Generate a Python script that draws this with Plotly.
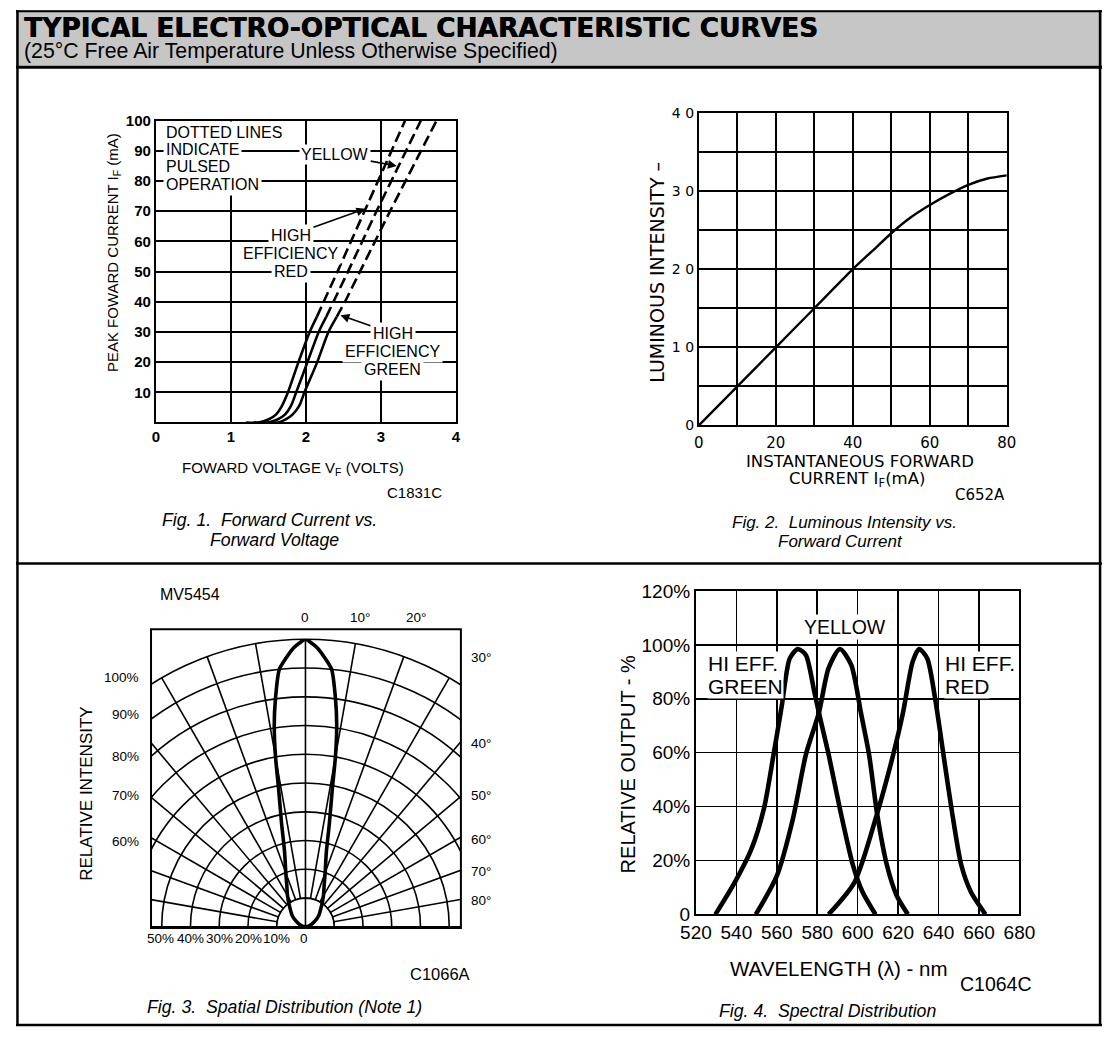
import plotly.graph_objects as go

W, H = 1118, 1040


def fx(p):
    return p / W


def fy(p):
    return 1 - p / H


ARIAL = "Liberation Sans, Arial, Helvetica, sans-serif"
DEJAVU = "DejaVu Sans, Verdana, sans-serif"

# ---------------- Fig. 1 data : forward current vs forward voltage ----------------
volt_ticks = [0, 1, 2, 3, 4]
current_ticks = [10, 20, 30, 40, 50, 60, 70, 80, 90, 100]
dc_current = [0, 0, 1, 2.6, 5.5, 10, 20, 30, 35]
pulse_current = [35, 40, 50, 70, 100]
her_dc_volt = [1.20, 1.37, 1.50, 1.60, 1.68, 1.76, 1.90, 2.05, 2.145]
her_pulse_volt = [2.145, 2.24, 2.42, 2.78, 3.32]
yel_dc_volt = [1.30, 1.50, 1.62, 1.72, 1.80, 1.87, 2.02, 2.17, 2.27]
yel_pulse_volt = [2.27, 2.37, 2.56, 2.94, 3.53]
grn_dc_volt = [1.40, 1.63, 1.73, 1.82, 1.91, 1.98, 2.15, 2.30, 2.41]
grn_pulse_volt = [2.41, 2.52, 2.72, 3.12, 3.74]

# ---------------- Fig. 2 data : luminous intensity vs forward current ----------------
if_ticks = [0, 20, 40, 60, 80]
lum_ticks = [0, 10, 20, 30, 40]
lum_ticktext = ["0", "1 0", "2 0", "3 0", "4 0"]
fwd_current = [0, 10, 20, 30, 40, 45, 50, 55, 60, 65, 70, 75, 80]
lum_intensity = [0, 5, 10, 15, 20, 22.3, 24.6, 26.6, 28.2, 29.6, 30.8, 31.6, 32]

# ---------------- Fig. 3 data : spatial distribution (one half, mirrored) ----------------
lobe_angle = [0, 1, 2.5, 4, 5.8, 7.5, 8.8, 10, 11, 13, 15.6, 20, 24, 30, 38, 50, 61, 75, 90]
lobe_intensity = [100, 99, 97, 94, 90, 80, 71, 60, 49, 37, 27, 20, 16, 12.5, 9, 6, 3.4, 1.5, 0]
inner_ring = [10]

# ---------------- Fig. 4 data : spectral distribution ----------------
nm_ticks = [520, 540, 560, 580, 600, 620, 640, 660, 680]
pct_ticks = [0, 20, 40, 60, 80, 100, 120]
pct_ticktext = ["0", "20%", "40%", "60%", "80%", "100%", "120%"]
green_nm = [529.6, 539.2, 547.2, 553.6, 558.4, 562.4, 566.4, 570.4, 574.4, 578.4, 580.8, 585.6, 591.2, 597.6, 602.4, 608.8]
green_pct = [0, 11.9, 23.8, 39.2, 59.4, 77.2, 95, 98.5, 96.2, 83.1, 74.8, 59.4, 39.2, 18.4, 8.3, 0]
yellow_nm = [549.6, 560, 568, 574.4, 580.8, 585.6, 591.2, 596.8, 601.6, 605.6, 609.6, 614.4, 619.2, 624.8]
yellow_pct = [0, 14.3, 35.6, 59.4, 74.8, 91.4, 98.5, 92.6, 74.8, 59.4, 37.4, 18.4, 7.1, 0]
red_nm = [585.6, 598.4, 609.6, 617.6, 622.4, 627.2, 630.4, 634.4, 638.4, 642.4, 646.4, 651.2, 656, 663.2]
red_pct = [0, 11.9, 37.4, 59.4, 74.8, 93.8, 98.5, 95, 79.6, 59.4, 39.2, 18.4, 8.3, 0]

fig = go.Figure()

# ---- Fig 1 traces
for v, i in [(her_dc_volt, dc_current), (yel_dc_volt, dc_current), (grn_dc_volt, dc_current)]:
    fig.add_trace(go.Scatter(x=v, y=i, mode="lines", xaxis="x", yaxis="y", hoverinfo="skip",
                             line=dict(color="black", width=2.6, shape="spline", smoothing=0.8)))
for v, i in [(her_pulse_volt, pulse_current), (yel_pulse_volt, pulse_current), (grn_pulse_volt, pulse_current)]:
    fig.add_trace(go.Scatter(x=v, y=i, mode="lines", xaxis="x", yaxis="y", hoverinfo="skip",
                             line=dict(color="black", width=2.6, dash="11px,5px")))

# ---- Fig 2 trace
fig.add_trace(go.Scatter(x=fwd_current, y=lum_intensity, mode="lines", xaxis="x2", yaxis="y2", hoverinfo="skip",
                         line=dict(color="black", width=2.4, shape="spline", smoothing=0.6)))

# ---- Fig 3 traces (polar)
fig.add_trace(go.Barpolar(r=inner_ring, theta=[0], width=[180], subplot="polar", hoverinfo="skip",
                          marker=dict(color="white", line=dict(color="black", width=1.6))))
fig.add_trace(go.Scatterpolar(r=[0, inner_ring[0]], theta=[0, 0], mode="lines", subplot="polar", hoverinfo="skip",
                              line=dict(color="black", width=1.6)))
lobe_theta = [-a for a in reversed(lobe_angle)] + lobe_angle[1:]
lobe_r = list(reversed(lobe_intensity)) + lobe_intensity[1:]
fig.add_trace(go.Scatterpolar(r=lobe_r, theta=lobe_theta, mode="lines", subplot="polar", hoverinfo="skip",
                              line=dict(color="black", width=3.6, shape="spline", smoothing=0.6)))

# ---- Fig 4 traces
for nm, pct in [(green_nm, green_pct), (yellow_nm, yellow_pct), (red_nm, red_pct)]:
    fig.add_trace(go.Scatter(x=nm, y=pct, mode="lines", xaxis="x3", yaxis="y3", hoverinfo="skip",
                             line=dict(color="black", width=4.6, shape="spline", smoothing=0.7)))

base_axis = dict(showline=True, mirror=True, linecolor="black", zeroline=False, ticks="",
                 showgrid=True, gridcolor="black", fixedrange=True, tickmode="array")

ann = []


def text(x, y, s, size, family=ARIAL, xanchor="center", yanchor="middle", **kw):
    font = dict(family=family, size=size, color="black")
    font.update(kw.pop("font", {}))
    d = dict(x=fx(x), y=fy(y), xref="paper", yref="paper", text=s, showarrow=False,
             xanchor=xanchor, yanchor=yanchor, font=font)
    d.update(kw)
    ann.append(d)


def dtext(x, y, s, size, xr, yr, **kw):
    d = dict(x=x, y=y, xref=xr, yref=yr, text=s, showarrow=False, borderpad=1, bgcolor="white",
             font=dict(family=ARIAL, size=size, color="black"))
    d.update(kw)
    ann.append(d)


def arrowtext(s, size, tx, ty, tipx, tipy, xr, yr, **kw):
    # text sits at (tx, ty); the arrow runs from the text box to the tip (tipx, tipy)
    d = dict(x=tipx, y=tipy, ax=tx, ay=ty, xref=xr, yref=yr, axref=xr, ayref=yr, text=s,
             showarrow=True, arrowhead=2, arrowsize=1.1, arrowwidth=1.6, arrowcolor="black",
             bgcolor="white", borderpad=1, font=dict(family=ARIAL, size=size, color="black"))
    d.update(kw)
    ann.append(d)


# header
text(6, 18, "TYPICAL ELECTRO-OPTICAL CHARACTERISTIC CURVES", 26.4, family=DEJAVU, xanchor="left",
     font=dict(weight="bold", shadow="0.6px 0 0 #000"))
text(6, 42, "(25°C Free Air Temperature Unless Otherwise Specified)", 21.3, xanchor="left")

# Fig 1 text
text(101, 248, "PEAK FOWARD CURRENT I<sub>F</sub> (mA)", 15, textangle=-90)
text(285, 468, "FOWARD VOLTAGE V<sub>F</sub> (VOLTS)", 15)
text(410, 492, "C1831C", 15)
text(148, 521, "Fig. 1.  Forward Current vs.", 17.7, xanchor="left", font=dict(style="italic"))
text(198, 541, "Forward Voltage", 17.7, xanchor="left", font=dict(style="italic"))
for yv, s in [(96.1, "DOTTED LINES"), (90.6, "INDICATE"), (84.8, "PULSED"), (79.0, "OPERATION")]:
    dtext(0.1, yv, s, 16, "x", "y", xanchor="left", borderpad=2)
arrowtext("YELLOW", 16, 2.39, 88.8, 3.21, 85.0, "x", "y")
arrowtext("HIGH", 16, 1.80, 62.0, 2.79, 70.8, "x", "y", borderpad=2)
dtext(1.80, 56.0, "EFFICIENCY", 16, "x", "y", borderpad=2)
dtext(1.80, 50.0, "RED", 16, "x", "y", borderpad=2)
arrowtext("HIGH", 16, 3.16, 29.5, 2.46, 35.5, "x", "y", borderpad=2)
dtext(3.16, 23.5, "EFFICIENCY", 16, "x", "y", borderpad=2)
dtext(3.16, 17.5, "GREEN", 16, "x", "y", borderpad=2)

# Fig 2 text
text(659, 268, "LUMINOUS INTENSITY –", 19, family=DEJAVU, textangle=-90)
text(869, 461, "INSTANTANEOUS FORWARD", 16.5, family=DEJAVU)
text(866, 479, "CURRENT I<sub>F</sub>(mA)", 16.5, family=DEJAVU)
text(992, 495, "C652A", 15, family=DEJAVU)
text(735, 523, "Fig. 2.  Luminous Intensity vs.", 17, xanchor="left", font=dict(style="italic"))
text(782, 542, "Forward Current", 17, xanchor="left", font=dict(style="italic"))

# Fig 3 text
text(146, 597, "MV5454", 16, xanchor="left")
for x, s in [(298, "0"), (354, "10°"), (412, "20°")]:
    text(x, 620, s, 13.5)
for y, s in [(661, "30°"), (749, "40°"), (802, "50°"), (847, "60°"), (879, "70°"), (909, "80°")]:
    text(479, y, s, 13.5)
for y, s in [(681, "100%"), (719, "90%"), (762, "80%"), (802, "70%"), (849, "60%")]:
    text(129, y, s, 13.5, xanchor="right")
for x, s in [(149, "50%"), (180, "40%"), (210, "30%"), (239, "20%"), (268, "10%"), (297, "0")]:
    text(x, 948, s, 13.5)
text(73, 800, "RELATIVE INTENSITY", 17, textangle=-90)
text(437, 984, "C1066A", 16.5)
text(133, 1018, "Fig. 3.  Spatial Distribution (Note 1)", 17.7, xanchor="left", font=dict(style="italic"))

# Fig 4 text
text(631, 770, "RELATIVE OUTPUT - %", 20, textangle=-90)
text(847, 978, "WAVELENGTH (λ) - nm", 20.5)
text(1009, 994, "C1064C", 19.5)
text(722, 1022, "Fig. 4.  Spectral Distribution", 17.7, xanchor="left", font=dict(style="italic"))
dtext(593.5, 106.5, "YELLOW", 19.5, "x3", "y3")
dtext(525.5, 93.0, "HI EFF.", 21, "x3", "y3", xanchor="left", borderpad=0)
dtext(525.5, 84.5, "GREEN", 21, "x3", "y3", xanchor="left", borderpad=0)
dtext(642.8, 93.0, "HI EFF.", 21, "x3", "y3", xanchor="left", borderpad=0)
dtext(642.8, 84.5, "RED", 21, "x3", "y3", xanchor="left", borderpad=0)


def hline(y, w):
    return dict(type="line", xref="paper", yref="paper", x0=0, x1=1, y0=fy(y), y1=fy(y),
                line=dict(color="black", width=w), layer="above")


def vline(x, y0, y1, w):
    return dict(type="line", xref="paper", yref="paper", x0=fx(x), x1=fx(x), y0=fy(y0), y1=fy(y1),
                line=dict(color="black", width=w), layer="above")


shapes = [
    # header band
    dict(type="rect", xref="paper", yref="paper", x0=0, x1=1, y0=fy(57), y1=1,
         fillcolor="#c6c6c6", line=dict(width=0), layer="below"),
    # masks clipping the polar grid to its rectangular frame
    dict(type="rect", xref="paper", yref="paper", x0=0, x1=fx(138.5), y0=fy(940), y1=fy(628),
         fillcolor="white", line=dict(width=0), layer="above"),
    dict(type="rect", xref="paper", yref="paper", x0=fx(458.5), x1=fx(606), y0=fy(940), y1=fy(628),
         fillcolor="white", line=dict(width=0), layer="above"),
    # fig 3 frame
    dict(type="rect", xref="paper", yref="paper", x0=fx(139), x1=fx(458), y0=fy(937), y1=fy(632),
         line=dict(color="black", width=2), layer="above"),
    # header rule, divider, page frame
    hline(58.5, 3),
    hline(565, 2.5),
    hline(1036, 2.5),
    hline(1.2, 2),
    vline(1.5, 0, 1037, 2.5),
    vline(1116, 0, 1037, 2.5),
]

fig.update_layout(
    autosize=True,
    margin=dict(l=0, r=0, t=0, b=0, pad=0),
    paper_bgcolor="white", plot_bgcolor="white", showlegend=False,
    font=dict(family=ARIAL, color="black"),
    xaxis=dict(base_axis, domain=[fx(144), fx(453)], range=[0, 4], tickvals=volt_ticks,
               gridwidth=2, linewidth=2, anchor="y",
               tickfont=dict(family=ARIAL, size=15, color="black", weight="bold")),
    yaxis=dict(base_axis, domain=[fy(421), fy(113)], range=[0, 100], tickvals=current_ticks,
               gridwidth=2, linewidth=2, anchor="x",
               tickfont=dict(family=ARIAL, size=15, color="black", weight="bold")),
    xaxis2=dict(base_axis, domain=[fx(703), fx(1020)], range=[0, 80], tickvals=if_ticks,
                gridwidth=2, linewidth=2, anchor="y2", ticklabelstandoff=3,
                minor=dict(dtick=10, tick0=0, showgrid=True, gridcolor="black", gridwidth=2, ticks=""),
                tickfont=dict(family=DEJAVU, size=15, color="black")),
    yaxis2=dict(base_axis, domain=[fy(424), fy(105)], range=[0, 40], tickvals=lum_ticks, ticktext=lum_ticktext,
                gridwidth=2, linewidth=2, anchor="x2",
                minor=dict(dtick=5, tick0=0, showgrid=True, gridcolor="black", gridwidth=2, ticks=""),
                tickfont=dict(family=DEJAVU, size=14, color="black")),
    xaxis3=dict(base_axis, domain=[fx(700), fx(1033)], range=[520, 680], tickvals=nm_ticks,
                gridwidth=1.6, linewidth=2, anchor="y3",
                tickfont=dict(family=ARIAL, size=19, color="black")),
    yaxis3=dict(base_axis, domain=[fy(923), fy(593)], range=[0, 120], tickvals=pct_ticks, ticktext=pct_ticktext,
                gridwidth=1.6, linewidth=2, anchor="x3",
                tickfont=dict(family=ARIAL, size=19, color="black")),
    polar=dict(domain=dict(x=[fx(2), fx(594)], y=[fy(937), fy(641)]), sector=[0, 180], bgcolor="white",
               radialaxis=dict(range=[0, 100], tickmode="linear", tick0=0, dtick=10, showgrid=True,
                               gridcolor="black", gridwidth=1.6, showline=False, showticklabels=False, ticks=""),
               angularaxis=dict(rotation=90, direction="clockwise", tickmode="linear", tick0=0, dtick=10,
                                showgrid=True, gridcolor="black", gridwidth=1.6, showline=True,
                                linecolor="black", linewidth=1.6, showticklabels=False, ticks="")),
    annotations=ann,
    shapes=shapes,
)

reset_css = (
    "var s=document.createElement('style');"
    "s.innerHTML='html,body{margin:0;padding:0;overflow:hidden;width:100%;height:100%;}';"
    "document.head.appendChild(s);"
)
fig.write_html("out.html", post_script=reset_css, default_width="100vw", default_height="100vh",
               config={"displayModeBar": False, "responsive": True, "staticPlot": True})
